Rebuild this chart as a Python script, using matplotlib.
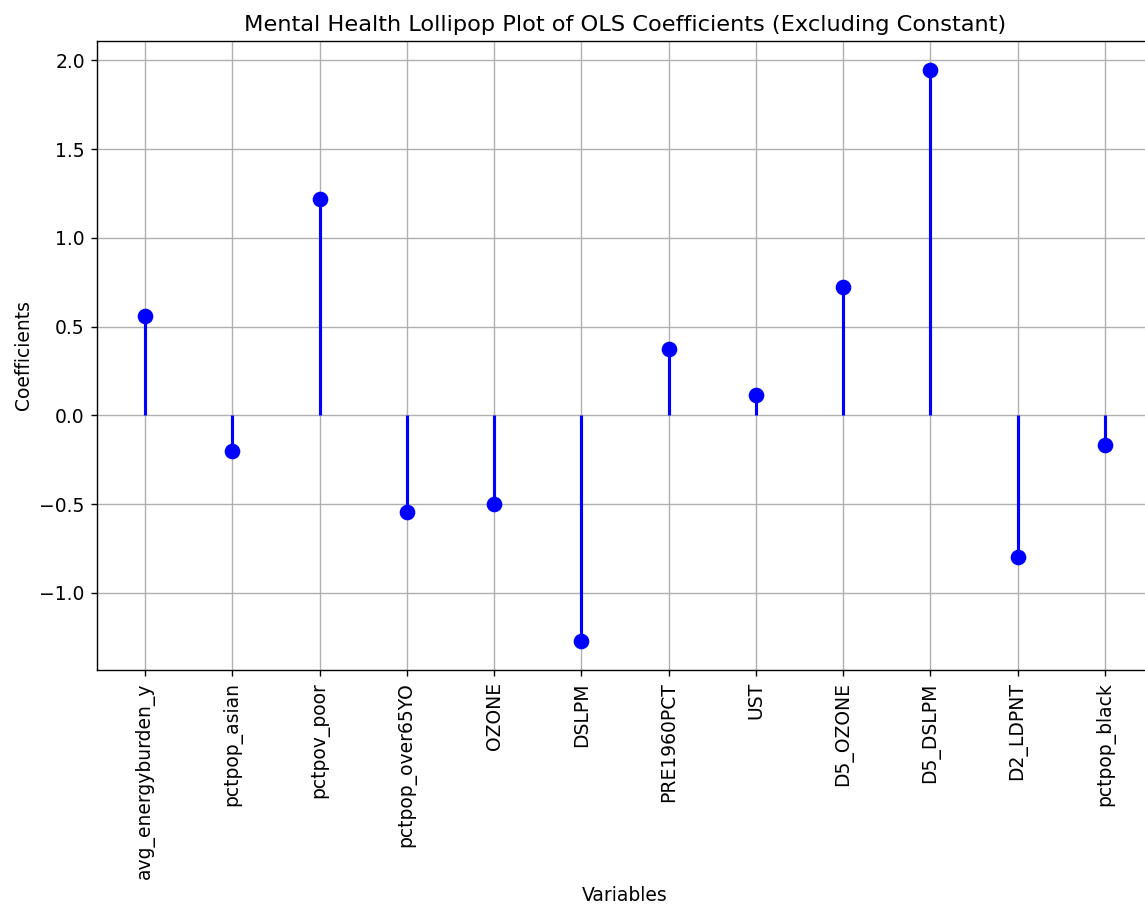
import numpy as np
import matplotlib
matplotlib.use("Agg")
import matplotlib.pyplot as plt

# OLS coefficients for the mental health model (constant term excluded)
variables = [
    "avg_energyburden_y", "pctpop_asian", "pctpov_poor", "pctpop_over65YO",
    "OZONE", "DSLPM", "PRE1960PCT", "UST", "D5_OZONE", "D5_DSLPM",
    "D2_LDPNT", "pctpop_black",
]
coefficients = [
    0.558, -0.203, 1.222, -0.546,
    -0.501, -1.273, 0.377, 0.113, 0.721, 1.949,
    -0.800, -0.169,
]

plt.rcParams["font.size"] = 10.8

fig = plt.figure(figsize=(1145 / 125, 906 / 125), dpi=125)
ax = fig.add_axes([0.0847, 0.2605, 0.9223, 0.6943])

positions = np.arange(len(variables))
markerline, stemlines, baseline = ax.stem(
    positions, coefficients, linefmt="b-", markerfmt="bo", basefmt=" "
)
markerline.set_markersize(8)
stemlines.set_linewidth(1.8)

ax.set_xticks(positions)
ax.set_xticklabels(variables, rotation=90)
ax.set_title("Mental Health Lollipop Plot of OLS Coefficients (Excluding Constant)")
ax.set_xlabel("Variables")
ax.set_ylabel("Coefficients")
ax.grid(True)

fig.savefig("out.png", dpi=125)
